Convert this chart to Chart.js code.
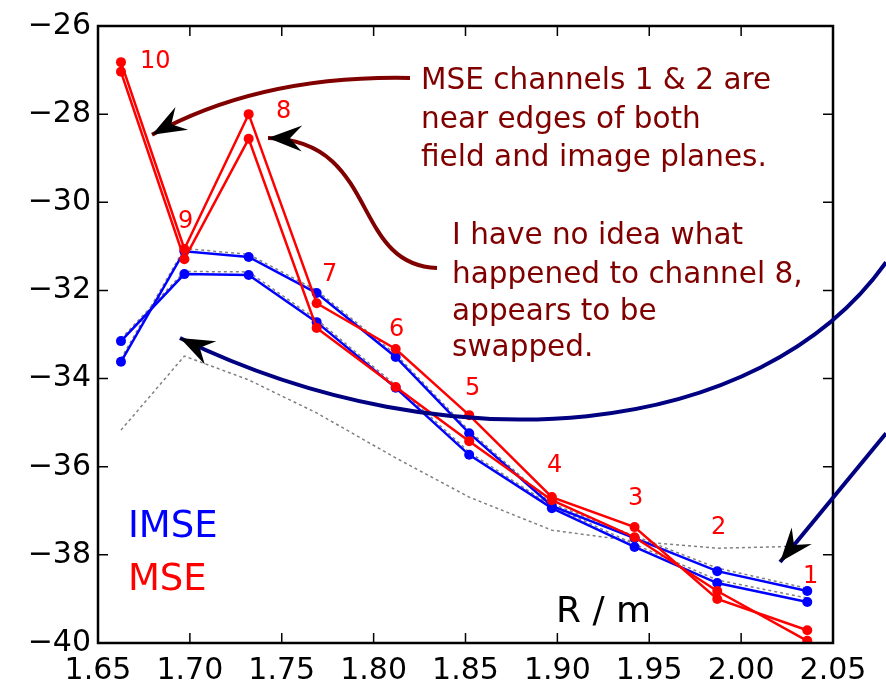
<!DOCTYPE html>
<html lang="en">
  <head>
    <meta charset="utf-8" />
    <title>MSE vs IMSE</title>
    <script src="https://cdn.jsdelivr.net/npm/chart.js"></script>
    <style>
      html, body { margin: 0; padding: 0; background: #ffffff; }
      #wrap { width: 886px; height: 682px; }
    </style>
  </head>
  <body>
    <div id="wrap"><canvas id="chart" width="886" height="682"></canvas></div>
    <script>
      // channel radii, channel 10 first
      const radius = [1.6625, 1.697, 1.732, 1.769, 1.812, 1.852, 1.897, 1.942, 1.987, 2.036];
      const channelNames = ["10", "9", "8", "7", "6", "5", "4", "3", "2", "1"];

      const mseA = [-26.82, -31.06, -28.0, -32.29, -33.33, -34.83, -36.69, -37.37, -39.0, -39.71];
      const mseB = [-27.04, -31.29, -28.56, -32.85, -34.19, -35.42, -36.76, -37.6, -38.82, -39.95];
      const imseA = [-33.62, -31.11, -31.24, -32.06, -33.51, -35.24, -36.89, -37.62, -38.37, -38.82];
      const imseB = [-33.15, -31.63, -31.65, -32.72, -34.21, -35.73, -36.94, -37.82, -38.64, -39.07];
      const refA = [-33.55, -31.05, -31.18, -32.0, -33.45, -35.18, -36.84, -37.57, -38.3, -38.76];
      const refB = [-33.1, -31.57, -31.58, -32.66, -34.15, -35.67, -36.89, -37.76, -38.57, -38.98];
      const refLow = [-35.17, -33.49, -34.03, -34.78, -35.8, -36.69, -37.44, -37.69, -37.85, -37.8];

      const xTicks = [1.65, 1.7, 1.75, 1.8, 1.85, 1.9, 1.95, 2.0, 2.05];
      const yTicks = [-40, -38, -36, -34, -32, -30, -28, -26];

      // channel number labels (data coords, left edge / middle)
      const labelX = [1.6729, 1.6935, 1.7469, 1.7719, 1.8084, 1.8497, 1.8943, 1.9384, 1.9836, 2.0337];
      const labelY = [-26.82, -30.45, -27.95, -31.65, -32.9, -34.24, -35.98, -36.73, -37.39, -38.5];

      const note1 = ["MSE channels 1 & 2 are", "near edges of both", "field and image planes."];
      const note1X = 1.8258;
      const note1Y = [-27.25, -28.13, -29.0];
      const note2 = ["I have no idea what", "happened to channel 8,", "appears to be", "swapped."];
      const note2X = 1.8427;
      const note2Y = [-30.77, -31.65, -32.49, -33.31];

      const pts = (ys) => radius.map((x, i) => ({ x: x, y: ys[i] }));
      const FONT = "'DejaVu Sans', sans-serif";

      function line(ys, color) {
        return {
          data: pts(ys),
          borderColor: color,
          backgroundColor: color,
          borderWidth: 2.5,
          pointRadius: 5,
          pointBorderWidth: 0,
          tension: 0,
        };
      }
      function dotted(ys) {
        return {
          data: pts(ys),
          borderColor: "#808080",
          borderWidth: 1.5,
          borderDash: [3, 3],
          pointRadius: 0,
          tension: 0,
        };
      }

      function stealth(ctx, tip, from) {
        const dx = tip.x - from.x, dy = tip.y - from.y;
        const d = Math.hypot(dx, dy);
        const ux = dx / d, uy = dy / d;
        const nx = -uy, ny = ux;
        const L = 34, W = 13, N = 22;
        ctx.beginPath();
        ctx.moveTo(tip.x, tip.y);
        ctx.lineTo(tip.x - L * ux + W * nx, tip.y - L * uy + W * ny);
        ctx.lineTo(tip.x - N * ux, tip.y - N * uy);
        ctx.lineTo(tip.x - L * ux - W * nx, tip.y - L * uy - W * ny);
        ctx.closePath();
        ctx.fillStyle = "#000000";
        ctx.fill();
      }

      const decor = {
        id: "decor",
        afterDraw(chart) {
          const ctx = chart.ctx;
          const a = chart.chartArea;
          const xs = chart.scales.x, ys = chart.scales.y;
          const P = (x, y) => ({ x: xs.getPixelForValue(x), y: ys.getPixelForValue(y) });
          ctx.save();

          // inward ticks on all four sides
          ctx.strokeStyle = "#000000";
          ctx.lineWidth = 1.5;
          ctx.beginPath();
          xTicks.forEach((v) => {
            const px = xs.getPixelForValue(v);
            ctx.moveTo(px, a.bottom); ctx.lineTo(px, a.bottom - 10);
            ctx.moveTo(px, a.top); ctx.lineTo(px, a.top + 10);
          });
          yTicks.forEach((v) => {
            const py = ys.getPixelForValue(v);
            ctx.moveTo(a.left, py); ctx.lineTo(a.left + 10, py);
            ctx.moveTo(a.right, py); ctx.lineTo(a.right - 10, py);
          });
          ctx.stroke();
          ctx.lineWidth = 2.5;
          ctx.strokeRect(a.left, a.top, a.right - a.left, a.bottom - a.top);

          // channel numbers
          ctx.fillStyle = "#ff0000";
          ctx.font = "24px " + FONT;
          ctx.textBaseline = "middle";
          ctx.textAlign = "left";
          channelNames.forEach((t, i) => {
            const p = P(labelX[i], labelY[i]);
            ctx.fillText(t, p.x, p.y);
          });

          // series labels and axis label
          ctx.font = "37px " + FONT;
          ctx.fillStyle = "#0000ff";
          let p = P(1.6663, -37.37);
          ctx.fillText("IMSE", p.x, p.y);
          ctx.fillStyle = "#ff0000";
          p = P(1.6663, -38.59);
          ctx.fillText("MSE", p.x, p.y);
          ctx.font = "36px " + FONT;
          ctx.fillStyle = "#000000";
          p = P(1.8993, -39.3);
          ctx.fillText("R / m", p.x, p.y);

          // notes
          ctx.font = "29.5px " + FONT;
          ctx.fillStyle = "#800000";
          note1.forEach((t, i) => { const q = P(note1X, note1Y[i]); ctx.fillText(t, q.x, q.y); });
          note2.forEach((t, i) => { const q = P(note2X, note2Y[i]); ctx.fillText(t, q.x, q.y); });

          ctx.lineWidth = 4;
          ctx.lineCap = "butt";

          // arrow to channels 1-2 (drawn near channel 10 side)
          let s = P(1.8198, -27.18), c = P(1.7382, -27.11), e = P(1.6794, -28.47);
          ctx.strokeStyle = "#800000";
          ctx.beginPath();
          ctx.moveTo(s.x, s.y);
          ctx.quadraticCurveTo(c.x, c.y, e.x, e.y);
          ctx.stroke();
          stealth(ctx, e, c);

          // arrow to channel 8
          s = P(1.8345, -31.49);
          let c1 = P(1.7871, -31.42), c2 = P(1.8035, -28.59);
          e = P(1.7425, -28.54);
          ctx.beginPath();
          ctx.moveTo(s.x, s.y);
          ctx.bezierCurveTo(c1.x, c1.y, c2.x, c2.y, e.x, e.y);
          ctx.stroke();
          stealth(ctx, e, c2);

          // navy arrows
          ctx.strokeStyle = "#000080";
          s = P(2.0789, -31.36); c1 = P(2.0103, -35.39); c2 = P(1.8416, -36.07); e = P(1.6946, -33.08);
          ctx.beginPath();
          ctx.moveTo(s.x, s.y);
          ctx.bezierCurveTo(c1.x, c1.y, c2.x, c2.y, e.x, e.y);
          ctx.stroke();
          stealth(ctx, e, c2);

          s = P(2.0789, -35.24); e = P(2.0212, -38.16);
          ctx.beginPath();
          ctx.moveTo(s.x, s.y);
          ctx.lineTo(e.x, e.y);
          ctx.stroke();
          stealth(ctx, e, s);

          ctx.restore();
        },
      };

      new Chart(document.getElementById("chart"), {
        type: "line",
        data: {
          datasets: [
            line(mseA, "#ff0000"),
            line(mseB, "#ff0000"),
            line(imseA, "#0000ff"),
            line(imseB, "#0000ff"),
            dotted(refA),
            dotted(refB),
            dotted(refLow),
          ],
        },
        options: {
          responsive: false,
          animation: false,
          layout: { padding: { top: 26, right: 53, left: 0, bottom: 0 } },
          plugins: { legend: { display: false }, tooltip: { enabled: false } },
          scales: {
            x: {
              type: "linear",
              min: 1.65,
              max: 2.05,
              afterBuildTicks: (sc) => { sc.ticks = xTicks.map((v) => ({ value: v })); },
              afterFit: (sc) => { sc.height = 39; },
              grid: { display: false, drawTicks: false },
              border: { display: false },
              ticks: {
                autoSkip: false,
                maxRotation: 0,
                padding: 10,
                color: "#000000",
                font: { family: FONT, size: 30 },
                callback: (v) => v.toFixed(2),
              },
            },
            y: {
              type: "linear",
              min: -40,
              max: -26,
              afterBuildTicks: (sc) => { sc.ticks = yTicks.map((v) => ({ value: v })); },
              afterFit: (sc) => { sc.width = 98; },
              grid: { display: false, drawTicks: false },
              border: { display: false },
              ticks: {
                autoSkip: false,
                padding: 7,
                color: "#000000",
                font: { family: FONT, size: 30 },
                callback: (v) => String(v).replace("-", "\u2212"),
              },
            },
          },
        },
        plugins: [decor],
      });
    </script>
  </body>
</html>
